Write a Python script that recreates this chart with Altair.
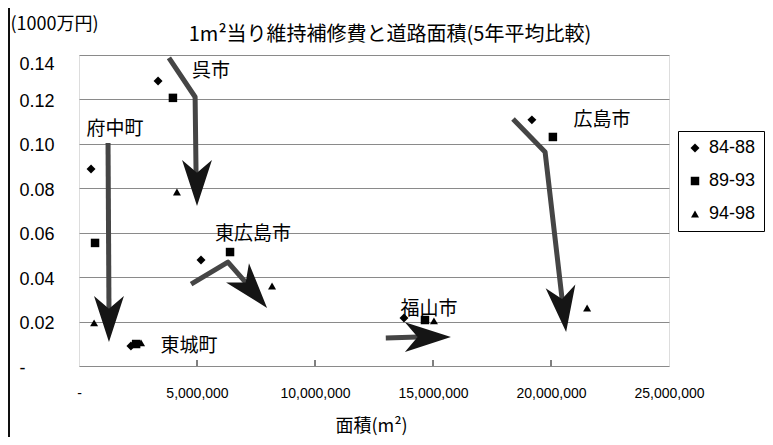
import altair as alt
import pandas as pd

# ---------------- data ----------------
periods = ["84-88", "89-93", "94-98"]
cities = ["呉市", "府中町", "東城町", "東広島市", "福山市", "広島市"]

# road area (m2)
area_8488 = [3.35e6, 0.51e6, 2.20e6, 5.17e6, 13.77e6, 19.19e6]
area_8993 = [3.98e6, 0.68e6, 2.42e6, 6.40e6, 14.66e6, 20.08e6]
area_9498 = [4.15e6, 0.64e6, 2.63e6, 8.18e6, 15.04e6, 21.53e6]
# maintenance cost per m2 (1000万円)
cost_8488 = [0.1283, 0.0887, 0.0090, 0.0477, 0.0216, 0.1108]
cost_8993 = [0.1207, 0.0554, 0.0099, 0.0513, 0.0207, 0.1031]
cost_9498 = [0.0783, 0.0194, 0.0104, 0.0360, 0.0203, 0.0261]

# city labels (data coordinates)
label_x = [5.59e6, 1.53e6, 4.66e6, 7.37e6, 14.83e6, 22.16e6]
label_y = [0.1328, 0.1067, 0.0090, 0.0594, 0.0257, 0.1108]

# hand drawn arrows: shaft polylines (arrow id, order, x, y)
arrow_id = ["呉市", "呉市", "呉市",
            "府中町", "府中町",
            "東広島市", "東広島市", "東広島市",
            "福山市", "福山市",
            "広島市", "広島市", "広島市"]
arrow_x = [3.81e6, 4.92e6, 4.96e6,
           1.23e6, 1.27e6,
           4.75e6, 6.31e6, 7.08e6,
           13.0e6, 14.36e6,
           18.39e6, 19.75e6, 20.47e6]
arrow_y = [0.1387, 0.1211, 0.0869,
           0.1004, 0.0257,
           0.0369, 0.0468, 0.0374,
           0.0126, 0.0130,
           0.1112, 0.0963, 0.0302]
# arrow heads: tip position and direction (degrees clockwise from up)
head_x = [5.00e6, 1.27e6, 7.97e6, 15.76e6, 20.64e6]
head_y = [0.0720, 0.0108, 0.0261, 0.0130, 0.0153]
head_angle = [180, 180, 140, 90, 173]

x_ticks = [0, 5e6, 10e6, 15e6, 20e6, 25e6]
y_ticks = [0, 0.02, 0.04, 0.06, 0.08, 0.10, 0.12, 0.14]
title_text = ["1m²当り維持補修費と道路面積(5年平均比較)"]

# ---------------- tables ----------------
rows = []
for p, xs, ys in zip(periods, [area_8488, area_8993, area_9498],
                     [cost_8488, cost_8993, cost_9498]):
    for c, xv, yv in zip(cities, xs, ys):
        rows.append({"city": c, "period": p, "area": xv, "cost": yv})
pts = pd.DataFrame(rows)

labels = pd.DataFrame({"city": cities, "x": label_x, "y": label_y})
shafts = pd.DataFrame({"id": arrow_id, "x": arrow_x, "y": arrow_y,
                       "order": list(range(len(arrow_x)))})
heads = pd.DataFrame({"x": head_x, "y": head_y, "angle": head_angle})
tickdf = pd.DataFrame({"x": x_ticks[1:-1]})
titledf = pd.DataFrame({"t": title_text})

JP = "Noto Sans CJK JP"
NUM = "Liberation Sans"
W, H = 590, 311

xscale = alt.Scale(domain=[0, 25e6], nice=False, zero=True)
yscale = alt.Scale(domain=[0, 0.14], nice=False, zero=True)

xenc = alt.X("area:Q", scale=xscale, axis=alt.Axis(
    values=x_ticks, title="面積(m²)", ticks=False, grid=False, domain=False,
    labelFont=NUM, labelFontSize=14, labelColor="black", labelPadding=20,
    labelFlush=False, labelOverlap=False,
    labelExpr="datum.value == 0 ? '-' : format(datum.value, ',')",
    titleFont=JP, titleFontSize=18, titleFontWeight="normal", titleColor="black",
    titleX=292, titleY=60, titleBaseline="middle", titleAnchor="start", titleAlign="center"))
yenc = alt.Y("cost:Q", scale=yscale, axis=alt.Axis(
    values=y_ticks, title="(1000万円)", ticks=False, domain=False,
    grid=True, gridColor="#8a8a8a", gridWidth=1,
    labelFont=NUM, labelFontSize=18, labelColor="black", labelAlign="left",
    labelPadding=60, labelBaseline="middle", labelFlush=False, labelOverlap=False,
    labelOffset={"condition": {"test": "datum.value >= 0.139", "value": 9}, "value": 2},
    labelExpr="datum.value == 0 ? '\u00a0-' : format(datum.value, '.2f')",
    titleFont=JP, titleFontSize=18, titleFontWeight="normal", titleColor="black",
    titleAngle=0, titleAlign="left", titleBaseline="middle", titleX=-69, titleY=-31))

leg = alt.Legend(title=None, orient="none", legendX=599, legendY=76,
                 strokeColor="black", fillColor="white",
                 padding=8, labelFont=NUM, labelFontSize=18,
                 labelColor="black", rowPadding=15, symbolOffset=0,
                 symbolFillColor="black", symbolStrokeColor="black",
                 labelOffset=5)

base_pts = alt.Chart(pts).mark_point(filled=True, color="black", opacity=1).encode(
    x=xenc, y=yenc,
    shape=alt.Shape("period:N", scale=alt.Scale(domain=periods,
                    range=["diamond", "square", "triangle-up"]), legend=leg),
    size=alt.Size("period:N", scale=alt.Scale(domain=periods, range=[80, 64, 40]),
                  legend=leg),
)

shaft = alt.Chart(shafts).mark_line(color="#454545", strokeWidth=5, strokeCap="butt",
                                    strokeJoin="round").encode(
    x=alt.X("x:Q", scale=xscale), y=alt.Y("y:Q", scale=yscale),
    detail="id:N", order="order:Q")

head_path = "M0,0 L-0.65,2 L0,1.45 L0.65,2 Z"
head = alt.Chart(heads).mark_point(shape=head_path, filled=True, color="#151515",
                                   size=2116, opacity=1).encode(
    x=alt.X("x:Q", scale=xscale), y=alt.Y("y:Q", scale=yscale),
    angle=alt.Angle("angle:Q", scale=None))

txt = alt.Chart(labels).mark_text(font=JP, fontSize=19, color="black").encode(
    x=alt.X("x:Q", scale=xscale), y=alt.Y("y:Q", scale=yscale), text="city:N")

ticks_in = alt.Chart(tickdf).mark_rule(color="black", strokeWidth=1).encode(
    x=alt.X("x:Q", scale=xscale), y=alt.value(H), y2=alt.value(H - 6))

frame = alt.Chart(tickdf).mark_rect(fill=None, stroke="black", strokeWidth=1).encode(
    x=alt.value(-70), x2=alt.value(W + 300), y=alt.value(-51), y2=alt.value(H + 300))

title = alt.Chart(titledf).mark_text(font=JP, fontSize=20, color="black",
                                     baseline="middle", align="center").encode(
    x=alt.value(311), y=alt.value(-20), text="t:N")

chart = alt.layer(frame, base_pts, shaft, head, txt, ticks_in, title).properties(
    width=W, height=H,
    autosize=alt.AutoSizeParams(type="none"),
    padding={"left": 71, "top": 47, "right": 96, "bottom": 71},
).configure_view(stroke="black", strokeWidth=1.5).configure(background="white")

chart.save("out.html", embed_options={"renderer": "svg", "actions": False})
